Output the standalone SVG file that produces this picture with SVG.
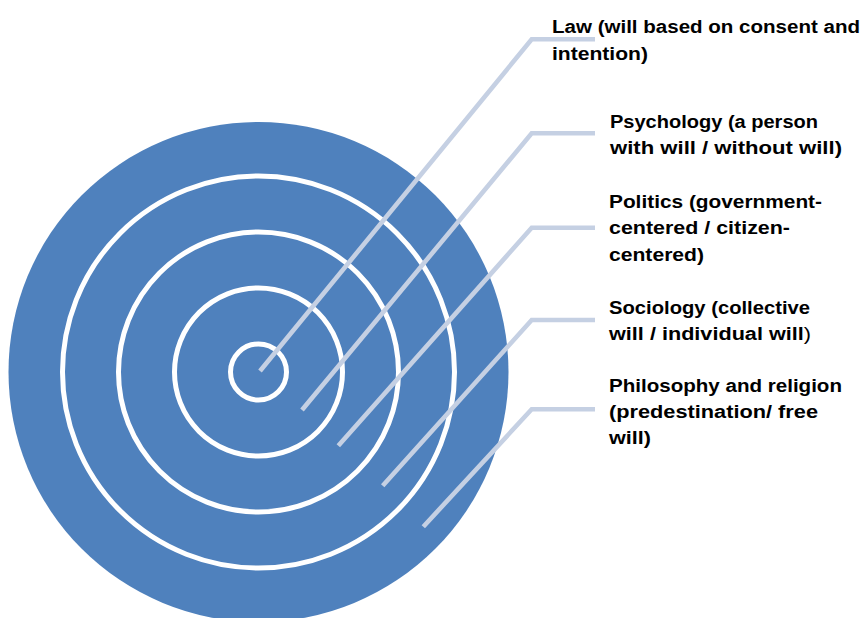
<svg xmlns="http://www.w3.org/2000/svg" width="864" height="618" viewBox="0 0 864 618">
<style>
.ring{fill:none;stroke:#FFFFFF;stroke-width:5}
.lead{fill:none;stroke:#C5D0E3;stroke-width:4.6;stroke-linejoin:miter;stroke-linecap:butt}
.lbl{font-family:"Liberation Sans",Arial,sans-serif;font-weight:bold;font-size:17.5px;fill:#000000}
</style>
<rect width="864" height="618" fill="#FFFFFF"/>
<g id="target">
<circle cx="258.5" cy="372" r="250" fill="#4F81BD"/>
<circle class="ring" cx="258.5" cy="372" r="28"/>
<circle class="ring" cx="258.5" cy="372" r="84"/>
<circle class="ring" cx="258.5" cy="372" r="140"/>
<circle class="ring" cx="258.5" cy="372" r="196"/>
</g>
<g id="connectors">
<polyline class="lead" points="260,371 531.7,39.3 595,39.3"/>
<polyline class="lead" points="302,410 531.7,133.3 595,133.3"/>
<polyline class="lead" points="338.3,445.7 531.7,227.7 595,227.7"/>
<polyline class="lead" points="382.7,485.7 531.7,320 595,320"/>
<polyline class="lead" points="423.3,526.7 531.7,409.3 595,409.3"/>
</g>
<g id="law">
<text class="lbl" x="552" y="33" textLength="308" lengthAdjust="spacingAndGlyphs">Law (will based on consent and</text>
<text class="lbl" x="552" y="59.5" textLength="96" lengthAdjust="spacingAndGlyphs">intention)</text>
</g>
<g id="psychology">
<text class="lbl" x="610" y="127.5" textLength="208" lengthAdjust="spacingAndGlyphs">Psychology (a person</text>
<text class="lbl" x="610" y="154" textLength="232" lengthAdjust="spacingAndGlyphs">with will / without will)</text>
</g>
<g id="politics">
<text class="lbl" x="609" y="207.5" textLength="213" lengthAdjust="spacingAndGlyphs">Politics (government-</text>
<text class="lbl" x="609" y="234" textLength="181" lengthAdjust="spacingAndGlyphs">centered / citizen-</text>
<text class="lbl" x="609" y="260.5" textLength="95" lengthAdjust="spacingAndGlyphs">centered)</text>
</g>
<g id="sociology">
<text class="lbl" x="609" y="313.5" textLength="201" lengthAdjust="spacingAndGlyphs">Sociology (collective</text>
<text class="lbl" x="609" y="340" textLength="202" lengthAdjust="spacingAndGlyphs">will / individual will<tspan font-weight="normal">)</tspan></text>
</g>
<g id="philosophy">
<text class="lbl" x="609" y="391.5" textLength="233" lengthAdjust="spacingAndGlyphs">Philosophy and religion</text>
<text class="lbl" x="609" y="418" textLength="209" lengthAdjust="spacingAndGlyphs">(predestination/ free</text>
<text class="lbl" x="609" y="444" textLength="42" lengthAdjust="spacingAndGlyphs">will)</text>
</g>
</svg>
